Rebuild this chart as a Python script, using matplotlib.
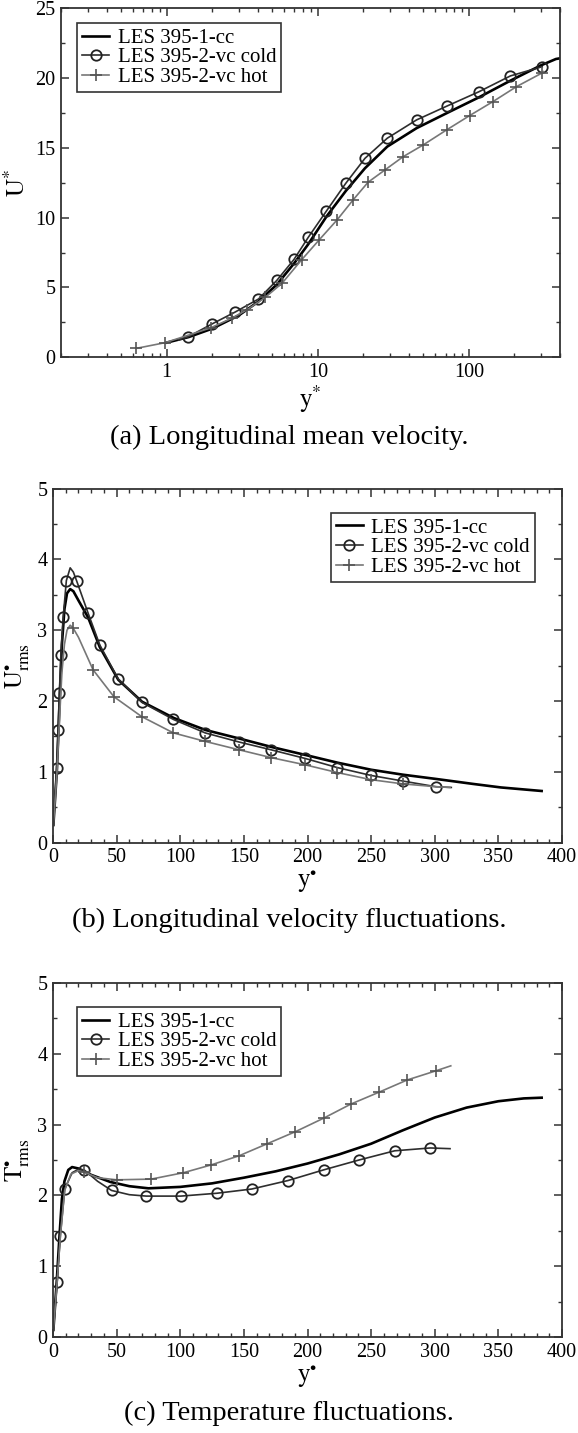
import numpy as np
import matplotlib
matplotlib.use("Agg")
import matplotlib.pyplot as plt
from matplotlib.ticker import MultipleLocator, LogLocator, NullFormatter, FixedLocator, FixedFormatter

plt.rcParams["font.family"] = ["Liberation Serif", "DejaVu Serif"]
plt.rcParams["mathtext.fontset"] = "stix"

# -----------------------------
# Panel (a): mean velocity, log x
# -----------------------------
a_cc_y = [1.0, 1.4, 2.0, 3.0, 4.0, 5.35, 7.0, 8.65, 11.4, 15.3, 20.5, 28.8, 45, 72, 116, 188, 300, 376, 400]
a_cc_u = [1.05, 1.45, 2.05, 3.0, 3.95, 5.2, 6.75, 8.1, 10.07, 11.9, 13.53, 15.08, 16.4, 17.5, 18.6, 19.8, 20.9, 21.35, 21.4]

a_cold_y = [1.2, 1.39, 1.99, 2.84, 4.05, 5.35, 6.95, 8.65, 11.4, 15.3, 20.5, 28.8, 45, 71.8, 116, 188, 305]
a_cold_u = [1.25, 1.47, 2.38, 3.24, 4.17, 5.5, 7.0, 8.59, 10.47, 12.45, 14.24, 15.68, 16.99, 17.99, 19.0, 20.14, 20.8]

a_hot_y = [0.63, 0.98, 1.95, 2.7, 3.4, 4.5, 5.8, 7.8, 10.2, 13.4, 17.1, 21.5, 27.8, 36.7, 49.8, 71, 101, 144, 206, 302, 312]
a_hot_u = [0.64, 1.05, 2.1, 2.8, 3.4, 4.3, 5.3, 6.97, 8.4, 9.83, 11.26, 12.53, 13.41, 14.36, 15.2, 16.27, 17.3, 18.3, 19.37, 20.33, 20.45]

# -----------------------------
# Panel (b): u_rms
# -----------------------------
b_cc_y = [0.3, 3, 5, 7, 9, 11, 13.5, 16, 20, 27.6, 36.8, 51.3, 70, 95, 120, 146.5, 172, 198, 223.5, 250, 275, 301, 330, 352, 384]
b_cc_u = [0.25, 1.0, 1.9, 2.8, 3.3, 3.52, 3.58, 3.55, 3.42, 3.18, 2.76, 2.30, 1.99, 1.76, 1.59, 1.47, 1.35, 1.24, 1.13, 1.03, 0.96, 0.90, 0.83, 0.78, 0.73]

b_cold_y = [0.3, 2.9, 4.0, 5.0, 6.2, 8.0, 10.5, 13.5, 16, 18.5, 27.6, 36.8, 51.3, 70, 94.6, 119.6, 146.5, 171.7, 198, 223.5, 249.8, 275, 301, 313]
b_cold_u = [0.25, 1.06, 1.59, 2.12, 2.65, 3.18, 3.70, 3.88, 3.82, 3.70, 3.24, 2.79, 2.31, 1.98, 1.74, 1.55, 1.42, 1.31, 1.19, 1.06, 0.95, 0.87, 0.79, 0.78]
b_cold_marks = [1, 2, 3, 4, 5, 6, 9, 10, 11, 12, 13, 14, 15, 16, 17, 18, 19, 20, 21, 22]

b_hot_y = [0.3, 3, 5, 7, 9, 11, 13.5, 15.8, 20, 31.5, 47.9, 69.7, 94.6, 119.6, 146.5, 171.7, 198, 223.5, 249.8, 275, 301, 312]
b_hot_u = [0.25, 0.95, 1.7, 2.4, 2.8, 3.0, 3.07, 3.03, 2.9, 2.44, 2.06, 1.78, 1.55, 1.43, 1.31, 1.20, 1.10, 0.99, 0.89, 0.83, 0.79, 0.78]
b_hot_marks = [7, 9, 10, 11, 12, 13, 14, 15, 16, 17, 18, 19]

# -----------------------------
# Panel (c): T_rms
# -----------------------------
c_cc_y = [0.3, 3, 5, 7, 9, 12, 15, 20, 30, 45, 60, 75, 100, 125, 150, 175, 200, 225, 250, 275, 300, 325, 350, 370, 384]
c_cc_t = [0.1, 0.8, 1.4, 1.95, 2.2, 2.36, 2.40, 2.38, 2.29, 2.19, 2.13, 2.10, 2.12, 2.17, 2.25, 2.34, 2.45, 2.58, 2.73, 2.92, 3.10, 3.24, 3.33, 3.37, 3.38]

c_cold_y = [0.3, 3.2, 5.8, 9.2, 15, 20, 24.5, 35, 46, 60, 73.4, 100.4, 128.6, 156.2, 184.7, 212.6, 240.5, 268.5, 296.6, 312]
c_cold_t = [0.1, 0.77, 1.43, 2.09, 2.32, 2.37, 2.36, 2.2, 2.07, 2.01, 1.99, 1.99, 2.03, 2.09, 2.21, 2.36, 2.50, 2.63, 2.67, 2.66]
c_cold_marks = [1, 2, 3, 6, 8, 10, 11, 12, 13, 14, 15, 16, 17, 18]

c_hot_y = [0.3, 3.2, 5.8, 9.2, 14, 20, 24.5, 35, 50.1, 77.1, 102.4, 124.2, 146.3, 168.4, 190.5, 212.6, 234.1, 256.5, 278.3, 301, 312.6]
c_hot_t = [0.1, 0.77, 1.43, 2.07, 2.3, 2.35, 2.33, 2.25, 2.22, 2.23, 2.32, 2.43, 2.56, 2.73, 2.90, 3.09, 3.29, 3.46, 3.63, 3.76, 3.83]
c_hot_marks = [6, 8, 9, 10, 11, 12, 13, 14, 15, 16, 17, 18, 19]

labels = ["LES 395-1-cc", "LES 395-2-vc cold", "LES 395-2-vc hot"]
captions = ["(a) Longitudinal mean velocity.",
            "(b) Longitudinal velocity fluctuations.",
            "(c) Temperature fluctuations."]

cc_style = dict(color="black", lw=1.9)
cold_style = dict(color="#2e2e2e", lw=1.2, marker="o", ms=7.5, mfc="none", mec="#222222", mew=1.3)
hot_style = dict(color="#777777", lw=1.2, marker="+", ms=9, mec="#555555", mew=1.2)

W, H = 578, 1433
fig = plt.figure(figsize=(W / 100, H / 100), dpi=100)


def add_ax(left, right, top, bottom):
    return fig.add_axes([left / W, 1 - bottom / H, (right - left) / W, (bottom - top) / H])


def style_ax(ax):
    for s in ax.spines.values():
        s.set_linewidth(1.3)
        s.set_color("#333333")
    ax.tick_params(which="both", direction="in", top=True, right=True,
                   labelsize=14.5, color="#333333", pad=4)
    ax.tick_params(which="major", length=5.5, width=1.1)
    ax.tick_params(which="minor", length=3, width=1.0)


def add_legend(ax, loc, anchor):
    leg = ax.legend(labels, loc=loc, bbox_to_anchor=anchor, borderaxespad=0,
                    fontsize=15, frameon=True, fancybox=False, framealpha=1,
                    edgecolor="#333333", labelspacing=0.0, borderpad=0.25,
                    handletextpad=0.4, handlelength=1.3)
    leg.get_frame().set_linewidth(1.2)


# ---- (a)
ax = add_ax(61, 560, 8, 357.3)
ax.plot(a_cc_y, a_cc_u, **cc_style)
ax.plot(a_cold_y, a_cold_u, markevery=list(range(1, len(a_cold_y))), **cold_style)
ax.plot(a_hot_y, a_hot_u, markevery=list(range(0, len(a_hot_y) - 1)), **hot_style)
ax.set_xscale("log")
ax.set_xlim(0.2, 400)
ax.set_ylim(0, 25)
ax.xaxis.set_major_locator(FixedLocator([1, 10, 100]))
ax.xaxis.set_major_formatter(FixedFormatter(["1", "10", "100"]))
ax.xaxis.set_minor_locator(LogLocator(base=10, subs=np.arange(2, 10)))
ax.xaxis.set_minor_formatter(NullFormatter())
ax.yaxis.set_major_locator(MultipleLocator(5))
ax.yaxis.set_minor_locator(MultipleLocator(2.5))
style_ax(ax)
ax.set_ylabel(r"$\mathrm{U^{*}}$", fontsize=18, labelpad=4)
ax.set_xlabel(r"$\mathrm{y^{*}}$", fontsize=18, labelpad=1)
add_legend(ax, "upper left", (0.032, 0.957))
fig.text(0.5, 1 - 437 / H, captions[0], ha="center", va="center", fontsize=20.5)

# ---- (b)
ax = add_ax(53, 562, 488.5, 842.7)
ax.plot(b_cc_y, b_cc_u, **cc_style)
ax.plot(b_cold_y, b_cold_u, markevery=b_cold_marks, **cold_style)
ax.plot(b_hot_y, b_hot_u, markevery=b_hot_marks, **hot_style)
ax.set_xlim(0, 400)
ax.set_ylim(0, 5)
ax.xaxis.set_major_locator(MultipleLocator(50))
ax.xaxis.set_minor_locator(MultipleLocator(10))
ax.yaxis.set_major_locator(MultipleLocator(1))
ax.yaxis.set_minor_locator(MultipleLocator(0.5))
style_ax(ax)
ax.set_ylabel(r"$\mathrm{U_{rms}^{\bullet}}$", fontsize=18, labelpad=4)
ax.set_xlabel(r"$\mathrm{y^{\bullet}}$", fontsize=18, labelpad=1)
add_legend(ax, "upper right", (0.947, 0.931))
fig.text(0.5, 1 - 920 / H, captions[1], ha="center", va="center", fontsize=20.5)

# ---- (c)
ax = add_ax(53, 562, 983, 1337)
ax.plot(c_cc_y, c_cc_t, **cc_style)
ax.plot(c_cold_y, c_cold_t, markevery=c_cold_marks, **cold_style)
ax.plot(c_hot_y, c_hot_t, markevery=c_hot_marks, **hot_style)
ax.set_xlim(0, 400)
ax.set_ylim(0, 5)
ax.xaxis.set_major_locator(MultipleLocator(50))
ax.xaxis.set_minor_locator(MultipleLocator(10))
ax.yaxis.set_major_locator(MultipleLocator(1))
ax.yaxis.set_minor_locator(MultipleLocator(0.5))
style_ax(ax)
ax.set_ylabel(r"$\mathrm{T_{rms}^{\bullet}}$", fontsize=18, labelpad=4)
ax.set_xlabel(r"$\mathrm{y^{\bullet}}$", fontsize=18, labelpad=1)
add_legend(ax, "upper left", (0.047, 0.932))
fig.text(0.5, 1 - 1413 / H, captions[2], ha="center", va="center", fontsize=20.5)

fig.savefig("out.png", dpi=100)
